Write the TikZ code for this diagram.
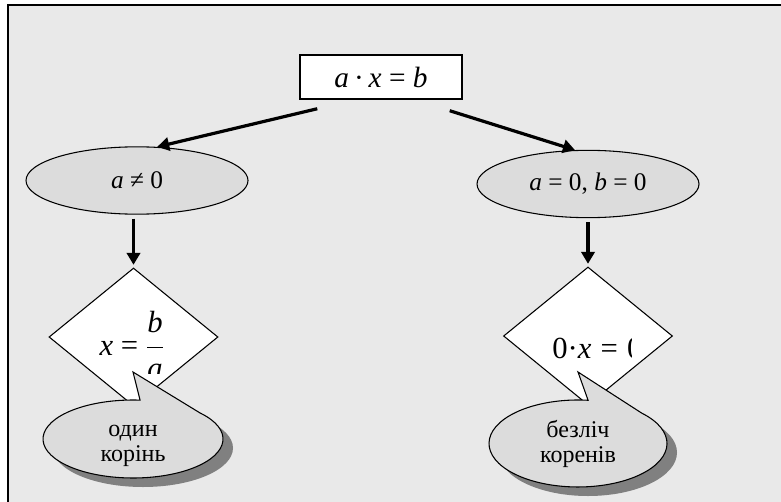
\documentclass[tikz,border=0pt]{standalone}
\usepackage{fontspec}
\setmainfont{Liberation Serif}
\usetikzlibrary{shapes, arrows.meta, calc}
\definecolor{FrameGray}{HTML}{E9E9E9}
\definecolor{ShapeGray}{HTML}{DCDCDC}
\definecolor{ShadowGray}{HTML}{808080}
\newcommand{\vr}[1]{\textit{#1}}

\begin{document}
\begin{tikzpicture}[
			x=0.75pt, y=0.75pt,
			mathfont/.style={font=\fontsize{19}{22}\selectfont},
			bigfont/.style={font=\fontsize{23}{26}\selectfont},
			box/.style={rectangle, draw, line width=1.1pt, fill=white, minimum width=121.5pt, minimum height=33pt, font=\fontsize{22}{25}\selectfont},
			case/.style={ellipse, draw, line width=0.8pt, fill=ShapeGray, minimum width=166.5pt, minimum height=50.5pt, mathfont},
			test/.style={diamond, draw, line width=0.8pt, fill=white, minimum width=126.75pt, minimum height=103.5pt, inner sep=0pt},
			note/.style={align=center, font=\fontsize{18}{19}\selectfont},
			bubble/.style={draw, line width=0.8pt, fill=ShapeGray},
			arr/.style={-{Triangle[length=9pt, width=10pt]}, line width=2.4pt},
			]
			\useasboundingbox (0,0) rectangle (781,501);
			\clip (0,0) rectangle (781,501);
			\draw[line width=1pt, fill=FrameGray] (8,-20) rectangle (800,496);
			
			\node (eq) [box] at (381,424) {\raisebox{-2pt}{\vr{a}\,·\,\vr{x} = \vr{b}}};
			\node (ne) [case] at (137,320.5) {\vr{a} ≠ 0};
			\node (ez) [case] at (588,317) {\vr{a} = 0, \vr{b} = 0};
			\node (d1) [test] at (133.5,164) {};
			\node (d2) [test] at (588,165) {};
			
			% text boxes cut off as in the original
			\begin{scope}
				\clip (70,128) rectangle (200,210);
				\node (r1) [bigfont] at (132,156) {\vr{x} = $\displaystyle\frac{\mbox{\vr{b}}}{\mbox{\vr{a}}}$};
			\end{scope}
			\begin{scope}
				\clip (540,120) rectangle (631,210);
				\node (r2) [bigfont, anchor=base west, inner sep=0pt] at (552,143) {0·\vr{x}\hspace{0.3em}=\hspace{0.3em}0};
			\end{scope}
			
			\draw[arr] ($(eq.south west)+(18,-9)$) -- (ne.59);
			\draw[arr] ($(eq.south east)+(-13,-11)$) -- (ez.111);
			\draw[arr, shorten <=3pt, shorten >=2pt] (d1.north |- ne.south) -- (d1.north);
			\draw[arr, shorten <=3pt, shorten >=2pt] (d2.north |- ez.south) -- (d2.north);
			
			% callouts
			\fill[ShadowGray] (143,53) ellipse [x radius=90, y radius=39];
			\filldraw[bubble] (200.1,88) arc [start angle=41.8, end angle=-274.5, x radius=90, y radius=39] -- (133,129) -- cycle;
			\node (t1) [note] at (133,55) {один\\корінь};
			
			\fill[ShadowGray] (588,48.5) ellipse [x radius=89, y radius=43.5];
			\filldraw[bubble] (641.7,87.9) arc [start angle=44.3, end angle=-276.5, x radius=89, y radius=43.5] -- (578,129) -- cycle;
			\node (t2) [note] at (578,57) {безліч\\коренів};
		\end{tikzpicture}
\end{document}
